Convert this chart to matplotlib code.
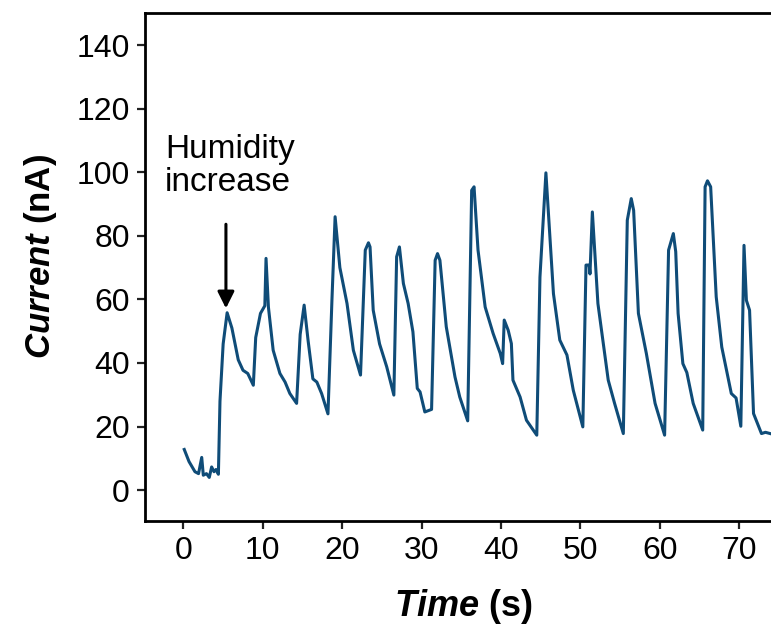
import matplotlib
matplotlib.use("Agg")
import matplotlib.pyplot as plt

plt.rcParams['font.family'] = ['Liberation Sans', 'DejaVu Sans']
plt.rcParams['mathtext.fontset'] = 'custom'
plt.rcParams['mathtext.bfit'] = 'Liberation Sans:italic:bold'
plt.rcParams['mathtext.it'] = 'Liberation Sans:italic'
plt.rcParams['mathtext.bf'] = 'Liberation Sans:bold'
plt.rcParams['mathtext.rm'] = 'Liberation Sans'

time_s = [0.1, 0.7, 1.45, 1.9, 2.3, 2.5, 2.9, 3.25, 3.55, 3.85, 4.1, 4.4, 4.6, 5.0, 5.5,
          6.1, 6.9, 7.5, 8.1, 8.8, 9.1, 9.7, 10.25, 10.4, 10.7, 11.3, 12.15, 12.8, 13.4, 14.25,
          14.7, 15.2, 15.7, 16.3, 16.8, 17.4, 18.2, 18.7, 19.1, 19.7, 20.6, 21.4, 22.3,
          22.9, 23.3, 23.5, 23.9, 24.7, 25.6, 26.5, 26.85, 27.2, 27.7, 28.3, 28.9, 29.45, 29.8,
          30.4, 31.25, 31.7, 32.0, 32.3, 33.1, 34.2, 34.8, 35.8, 36.3, 36.6, 37.1, 38.0,
          39.0, 39.9, 40.2, 40.4, 40.9, 41.3, 41.5, 42.4, 43.2, 44.5, 44.9, 45.65, 46.6,
          47.4, 48.3, 49.1, 50.3, 50.7, 51.1, 51.2, 51.5, 52.2, 53.5, 54.3, 55.4, 55.9,
          56.4, 56.7, 57.3, 58.3, 59.4, 60.6, 61.1, 61.7, 62.0, 62.3, 62.9, 63.4, 64.2,
          65.4, 65.7, 66.0, 66.4, 67.1, 67.8, 69.0, 69.6, 70.2, 70.6, 70.9, 71.3, 71.8,
          72.8, 73.3, 73.9]
current_nA = [12.8, 9.0, 5.8, 5.2, 10.3, 4.7, 5.2, 4.0, 7.3, 5.8, 6.5, 5.0, 28.0, 46.0, 55.8,
              51.0, 41.0, 37.7, 36.7, 33.0, 48.0, 55.6, 58.0, 72.9, 57.6, 44.0, 36.7, 34.0, 30.4, 27.3,
              49.0, 58.2, 47.0, 35.0, 34.0, 30.4, 24.0, 59.7, 86.0, 70.0, 58.7, 44.0, 36.2,
              75.5, 77.8, 76.5, 56.6, 46.0, 38.8, 29.9, 73.4, 76.5, 65.0, 58.7, 49.8, 32.0, 30.9,
              24.6, 25.4, 72.3, 74.4, 72.3, 51.4, 35.6, 29.3, 21.8, 94.3, 95.4, 75.5, 57.6,
              49.3, 43.0, 39.8, 53.5, 50.3, 46.1, 34.6, 29.3, 22.0, 17.3, 67.0, 99.8, 61.8,
              47.2, 42.5, 31.4, 19.9, 70.8, 70.8, 68.0, 87.5, 58.7, 34.6, 27.3, 17.8, 84.9,
              91.7, 88.0, 55.6, 43.0, 27.3, 17.3, 75.5, 80.7, 75.0, 55.6, 39.8, 37.0, 27.3,
              18.9, 95.4, 97.3, 95.4, 60.8, 45.0, 30.4, 29.0, 20.1, 77.0, 59.7, 56.6, 24.1,
              17.8, 18.2, 17.8]

xticks = [0, 10, 20, 30, 40, 50, 60, 70]
yticks = [0, 20, 40, 60, 80, 100, 120, 140]

fig = plt.figure(figsize=(7.71, 6.30), dpi=100)
ax = fig.add_axes([0.188, 0.173, 0.812, 0.806])
ax.plot(time_s, current_nA, color='#0f4c78', lw=2.2, solid_joinstyle='round')

ax.set_xlim(-4.85, 74.0)
ax.set_ylim(-9.7, 150)
ax.set_xticks(xticks)
ax.set_yticks(yticks)
ax.tick_params(direction='out', length=6, width=1.6, labelsize=23, pad=5, color='#222222')
for s in ['left', 'bottom', 'top']:
    ax.spines[s].set_linewidth(2)
ax.spines['right'].set_visible(False)

ax.set_xlabel(r'$\mathbfit{Time}$ (s)', fontsize=26, fontweight='bold')
ax.set_ylabel(r'$\mathbfit{Current}$ (nA)', fontsize=25, fontweight='bold')
ax.xaxis.set_label_coords(0.508, -0.13)
ax.yaxis.set_label_coords(-0.138, 0.52)

ax.text(-2.3, 112.0, 'Humidity\nincrease', fontsize=24, va='top', ha='left', linespacing=1.1)
ax.annotate('', xy=(5.35, 56.3), xytext=(5.35, 84.5),
            arrowprops=dict(arrowstyle='-|>', color='black', lw=2.2, mutation_scale=25))

fig.savefig('out.png', dpi=100)
